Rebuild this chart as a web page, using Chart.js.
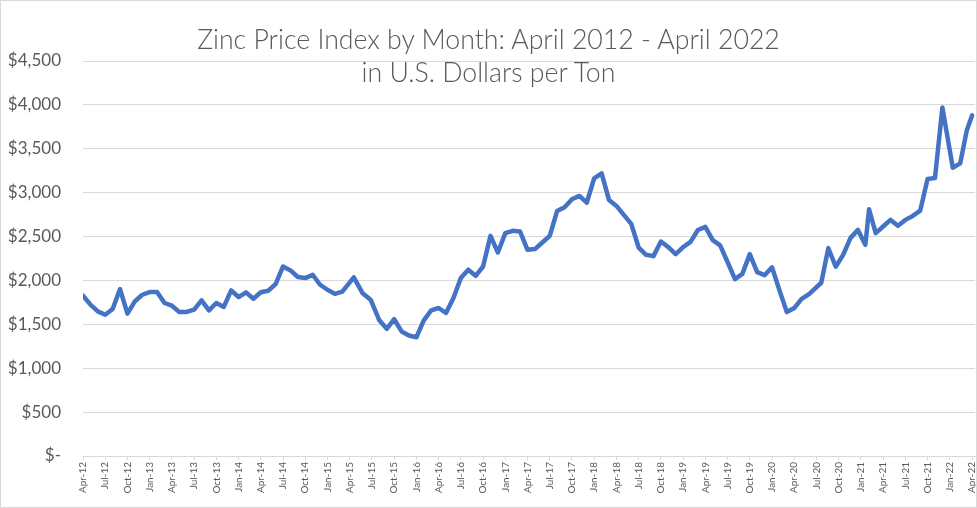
<!DOCTYPE html>
<html>
<head>
<meta charset="utf-8">
<script src="https://cdn.jsdelivr.net/npm/chart.js@4/dist/chart.umd.min.js"></script>
<style>
  html, body { margin: 0; padding: 0; background: #fff; }
  #wrap {
    position: relative;
    width: 977px;
    height: 508px;
    border: 1px solid #d9d9d9;
    box-sizing: border-box;
    background: #fff;
  }
  #chart { position: absolute; left: 0; top: 0; }
  #title {
    position: absolute;
    left: 0;
    top: 22px;
    width: 100%;
    text-align: center;
    font-family: Lato, 'Open Sans', sans-serif;
    font-weight: 300;
    font-size: 26.7px;
    line-height: 33px;
    color: #595959;
    pointer-events: none;
  }
</style>
</head>
<body>
<div id="wrap">
  <canvas id="chart" width="975" height="506"></canvas>
  <div id="title">Zinc Price Index by Month: April 2012 - April 2022<br>in U.S. Dollars per Ton</div>
</div>
<script>
// x tick labels, one per quarter starting at April 2012
const tickLabels = [
  'Apr-12', 'Jul-12', 'Oct-12', 'Jan-13', 'Apr-13', 'Jul-13', 'Oct-13',
  'Jan-14', 'Apr-14', 'Jul-14', 'Oct-14', 'Jan-15', 'Apr-15', 'Jul-15', 'Oct-15',
  'Jan-16', 'Apr-16', 'Jul-16', 'Oct-16', 'Jan-17', 'Apr-17', 'Jul-17', 'Oct-17',
  'Jan-18', 'Apr-18', 'Jul-18', 'Oct-18', 'Jan-19', 'Apr-19', 'Jul-19', 'Oct-19',
  'Jan-20', 'Apr-20', 'Jul-20', 'Oct-20', 'Jan-21', 'Apr-21', 'Jul-21', 'Oct-21',
  'Jan-22', 'Apr-22'
];

// months since April 2012 for each observation (a few are mid-month)
const monthOffsets = [
  0, 1, 2, 3, 4, 5, 6, 7, 8, 9, 10, 11, 12, 13, 14, 15, 16, 17, 18, 19,
  20, 21, 22, 23, 24, 25, 26, 27, 28, 29, 30, 31, 32, 33, 34, 35,
  36.55, 37.75, 38.85,
  40, 41, 42, 43, 44, 45, 46, 47, 48, 49, 50, 51, 52, 53, 54, 55, 56, 57, 58, 59,
  60, 61, 62, 63, 64, 65, 66, 67, 68, 69, 70, 71, 72, 73, 74, 75, 76, 77, 78, 79,
  80, 81, 82, 83, 84, 85, 86, 87, 88, 89, 90, 91, 92, 93, 94, 95, 96, 97, 98,
  99.65, 100.6, 101.6, 102.6, 103.6, 104.6, 105.6, 106.1,
  107, 108, 109, 110, 111, 112, 113, 114, 115, 116,
  117.4, 118.4, 119.3, 120
];

// zinc price index, US$ per ton
const prices = [
  1826, 1724, 1648, 1610, 1675, 1902, 1622, 1761, 1837, 1868, 1868, 1743, 1712, 1641, 1641, 1667, 1773, 1659, 1743, 1698,
  1886, 1811, 1864, 1792, 1865, 1883, 1958, 2159, 2114, 2039, 2027, 2065, 1951, 1894, 1847, 1873,
  2035, 1853, 1777,
  1546, 1449, 1558, 1419, 1373, 1353, 1546, 1659, 1686, 1629, 1800, 2027, 2122, 2053, 2159, 2508, 2318, 2539, 2565, 2557,
  2349, 2357, 2432, 2508, 2792, 2834, 2925, 2963, 2886, 3164, 3220, 2917, 2849, 2747, 2644, 2375, 2292, 2277, 2443, 2380,
  2300, 2380, 2440, 2575, 2610, 2460, 2400, 2210, 2015, 2075, 2300, 2095, 2060, 2150, 1890, 1640, 1685, 1790, 1845,
  1974, 2368, 2156, 2292, 2485, 2576, 2406, 2810,
  2539, 2614, 2690, 2622, 2690, 2735, 2795, 3156, 3167, 3970,
  3284, 3334, 3712, 3880
];

const textColor = '#595959';
const gridColor = '#d9d9d9';

function formatDollars(v) {
  if (v === 0) return '$-';
  return '$' + v.toLocaleString('en-US');
}

const points = monthOffsets.map((m, i) => ({ x: m, y: prices[i] }));

new Chart(document.getElementById('chart').getContext('2d'), {
  type: 'line',
  data: {
    datasets: [{
      data: points,
      borderColor: '#4472C4',
      borderWidth: 4.5,
      pointRadius: 0,
      tension: 0,
      borderJoinStyle: 'round',
      borderCapStyle: 'round',
      fill: false
    }]
  },
  options: {
    responsive: false,
    animation: false,
    layout: { padding: { top: 60, right: 1, bottom: 0, left: 0 } },
    plugins: {
      legend: { display: false },
      tooltip: { enabled: false },
      title: { display: false }
    },
    scales: {
      x: {
        type: 'linear',
        min: 0,
        max: 120.4,
        afterBuildTicks: (scale) => {
          scale.ticks = tickLabels.map((_, i) => ({ value: i * 3 }));
        },
        afterFit: (scale) => {
          scale.height = 51;
          // rotated labels would otherwise reserve extra room at the right
          scale.paddingLeft = 0;
          scale.paddingRight = 0;
        },
        grid: {
          drawOnChartArea: false,
          drawTicks: true,
          tickLength: 4,
          color: gridColor
        },
        border: { display: true, color: gridColor, width: 1 },
        ticks: {
          autoSkip: false,
          minRotation: 90,
          maxRotation: 90,
          padding: 2,
          color: textColor,
          font: { family: 'Lato, "Liberation Sans", sans-serif', size: 10 },
          callback: (value) => tickLabels[Math.round(value / 3)]
        }
      },
      y: {
        min: 0,
        max: 4500,
        afterFit: (scale) => { scale.width = 82; },
        grid: { color: gridColor, lineWidth: 1, drawTicks: false },
        border: { display: false },
        ticks: {
          stepSize: 500,
          padding: 22,
          color: textColor,
          font: { family: 'Lato, "Liberation Sans", sans-serif', size: 17 },
          callback: (value) => formatDollars(value)
        }
      }
    }
  }
});
</script>
</body>
</html>
